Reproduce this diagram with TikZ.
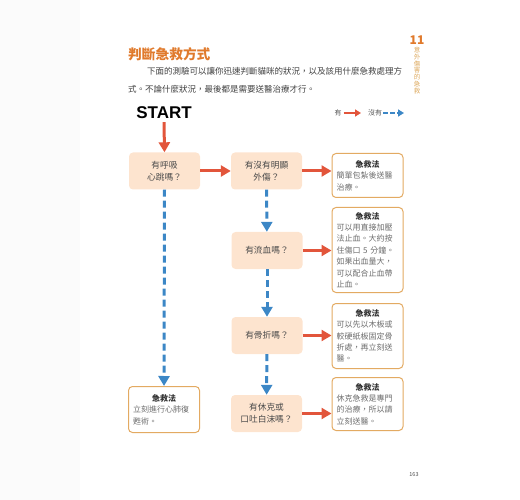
\documentclass[tikz,border=0pt]{standalone}
\usepackage{fontspec}
\setmainfont{Noto Sans CJK TC}
\newfontfamily\latinsans{Liberation Sans}
\usetikzlibrary{arrows.meta,positioning}
\definecolor{peach}{HTML}{FDE4CF}
\definecolor{aidline}{HTML}{E3AA62}
\definecolor{aidtext}{HTML}{6E6E6E}
\definecolor{qtext}{HTML}{4A4A4A}
\definecolor{yesred}{HTML}{E2553B}
\definecolor{noblue}{HTML}{3C87C6}
\definecolor{titleorange}{HTML}{E07A2C}
\definecolor{sidetan}{HTML}{DDA95E}
\newcommand{\aidhead}{\makebox[62pt]{\textcolor{black!80}{\textbf{急救法}}}}

\begin{document}
\begin{tikzpicture}[x=1pt,y=-1pt,
    ques/.style={fill=peach, rounded corners=4pt, minimum width=71pt, minimum height=37pt, inner sep=0pt, align=center, font=\fontsize{8.7}{12}\selectfont, text=qtext},
    aid/.style={draw=aidline, line width=1pt, fill=white, rounded corners=4pt, text width=62pt, inner xsep=4.5pt, inner ysep=4pt, anchor=north, align=left, font=\fontsize{8}{11.4}\selectfont, text=aidtext},
    yes/.style={-{Triangle[width=11pt,length=10pt]}, line width=3pt, draw=yesred},
    no/.style={yes, draw=noblue, dash pattern=on 7pt off 4pt}
]
\useasboundingbox (0,0) rectangle (520,500);
\fill[black!1.5] (0,0) rectangle (80,500);

\node[anchor=west, inner sep=0pt, font=\fontsize{13.7}{16}\selectfont\bfseries, text=titleorange] (title) at (128,54) {判斷急救方式};
\node[anchor=north west, inner sep=0pt, align=left, font=\fontsize{8.5}{18.5}\selectfont, text=black!75] (intro) at (128,67)
    {\hspace{19pt}下面的測驗可以讓你迅速判斷貓咪的狀況，以及該用什麼急救處理方\\式。不論什麼狀況，最後都是需要送醫治療才行。};
\node[inner sep=0pt, font=\fontsize{12}{12}\selectfont\bfseries, text=titleorange] (chap) at (417,40) {11};
\node[below=2pt of chap, inner sep=0pt, align=center, font=\fontsize{6.5}{6.9}\selectfont, text=sidetan] (chapname)
    {意\\外\\傷\\害\\的\\急\\救};

\node[inner sep=0pt, font=\latinsans\fontsize{17}{17}\selectfont\bfseries] (start) at (164,113) {START};
\node[inner sep=0pt, font=\fontsize{7}{8}\selectfont, text=black!65] (legyes) at (338,113) {有};
\coordinate (legyesend) at (361,113);
\node[inner sep=0pt, font=\fontsize{7}{8}\selectfont, text=black!65] (legno) at (375,113) {沒有};
\coordinate (legnoend) at (404,113);
\draw[yes, line width=2pt, -{Triangle[width=7pt,length=6pt]}] (legyes.east) ++(2,0) -- (legyesend);
\draw[no, line width=2pt, dash pattern=on 5pt off 2pt, -{Triangle[width=7pt,length=6pt]}] (legno.east) ++(1,0) -- (legnoend);

\node[ques] (q1) at (164.5,171) {有呼吸\\心跳嗎？};
\node[ques] (q2) at (266.5,171) {有沒有明顯\\外傷？};
\node[ques] (q3) at (267,250.5) {有流血嗎？};
\node[ques] (q4) at (267,335.5) {有骨折嗎？};
\node[ques] (q5) at (266.5,413.5) {有休克或\\口吐白沫嗎？};

\node[aid, minimum height=46pt] (a0) at (164,386) {\aidhead\\立刻進行心肺復\\甦術。};
\node[aid, minimum height=44pt] (a1) at (367.5,153) {\aidhead\\簡單包紮後送醫\\治療。};
\node[aid, minimum height=85pt] (a2) at (367.5,207) {\aidhead\\可以用直接加壓\\法止血。大約按\\住傷口 5 分鐘。\\如果出血量大，\\可以配合止血帶\\止血。};
\node[aid, minimum height=65pt] (a3) at (367.5,303) {\aidhead\\可以先以木板或\\較硬紙板固定骨\\折處，再立刻送\\醫。};
\node[aid, minimum height=53pt] (a4) at (367.5,377) {\aidhead\\休克急救是專門\\的治療，所以請\\立刻送醫。};

\draw[yes] (start.south) ++(0,3) -- (q1.north);
\draw[yes] (q1) -- (q2);
\draw[yes] (q2.east) -- (q2.east -| a1.west);
\draw[yes] (q3.east) -- (q3.east -| a2.west);
\draw[yes] (q4.east) -- (q4.east -| a3.west);
\draw[yes] (q5.east) -- (q5.east -| a4.west);

\draw[no] (q1.south) -- (a0.north);
\draw[no] (q2) -- (q3);
\draw[no] (q3) -- (q4);
\draw[no] (q4) -- (q5);

\node[inner sep=0pt, font=\fontsize{5.5}{6}\selectfont, text=black!70] (pagenum) at (414,475) {163};
\end{tikzpicture}
\end{document}
